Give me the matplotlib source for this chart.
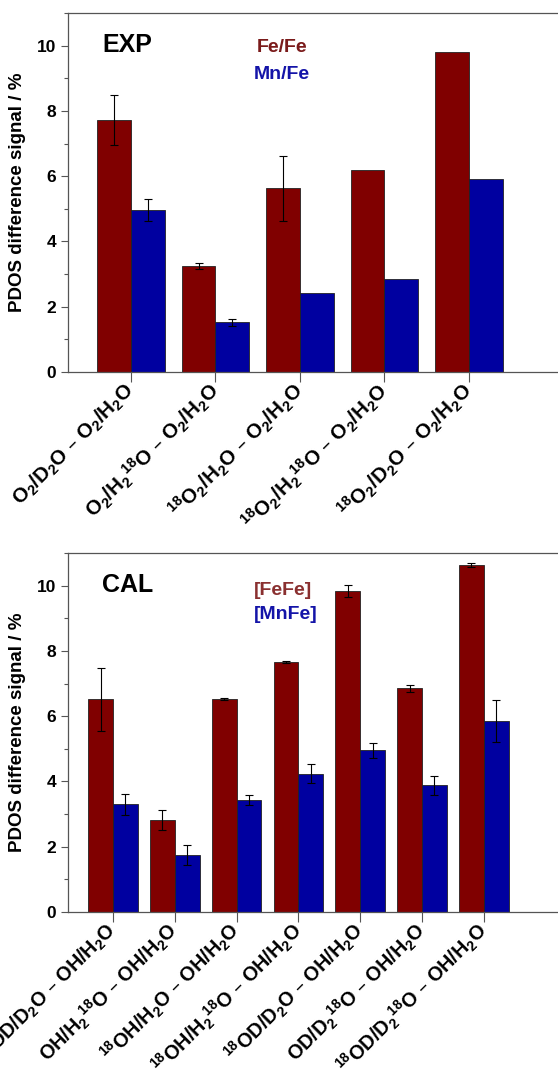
import numpy as np
import matplotlib
matplotlib.use('Agg')
import matplotlib.pyplot as plt
import matplotlib.transforms as mtransforms
from matplotlib.ticker import MultipleLocator

# ---- data: experiment (top) ----
exp_labels = ['O$_2$/D$_2$O – O$_2$/H$_2$O',
              'O$_2$/H$_2$$^{18}$O – O$_2$/H$_2$O',
              '$^{18}$O$_2$/H$_2$O – O$_2$/H$_2$O',
              '$^{18}$O$_2$/H$_2$$^{18}$O – O$_2$/H$_2$O',
              '$^{18}$O$_2$/D$_2$O – O$_2$/H$_2$O']
exp_fefe = [7.72, 3.25, 5.63, 6.18, 9.80]
exp_fefe_err = [0.77, 0.09, 1.0, 0, 0]
exp_mnfe = [4.97, 1.52, 2.42, 2.86, 5.91]
exp_mnfe_err = [0.34, 0.11, 0, 0, 0]

# ---- data: calculation (bottom) ----
cal_labels = ['OD/D$_2$O – OH/H$_2$O',
              'OH/H$_2$$^{18}$O – OH/H$_2$O',
              '$^{18}$OH/H$_2$O – OH/H$_2$O',
              '$^{18}$OH/H$_2$$^{18}$O – OH/H$_2$O',
              '$^{18}$OD/D$_2$O – OH/H$_2$O',
              'OD/D$_2$$^{18}$O – OH/H$_2$O',
              '$^{18}$OD/D$_2$$^{18}$O – OH/H$_2$O']
cal_fefe = [6.52, 2.82, 6.52, 7.65, 9.84, 6.85, 10.62]
cal_fefe_err = [0.97, 0.31, 0.03, 0.03, 0.19, 0.12, 0.06]
cal_mnfe = [3.30, 1.75, 3.43, 4.24, 4.95, 3.88, 5.85]
cal_mnfe_err = [0.32, 0.31, 0.16, 0.30, 0.23, 0.30, 0.64]

plt.rcParams['font.family'] = ['Liberation Sans', 'DejaVu Sans']
plt.rcParams['font.weight'] = 'bold'
plt.rcParams['mathtext.default'] = 'regular'

red = '#800000'
blue = '#0000a0'
spine_col = '#555555'

fig = plt.figure(figsize=(5.58, 10.84), dpi=100)
ax1 = fig.add_axes([68/558, 1-372/1084, 1-68/558, 359/1084])
ax2 = fig.add_axes([68/558, 1-912/1084, 1-68/558, 359/1084])


def draw(ax, labels, fefe, fefe_err, mnfe, mnfe_err, xlim, lsize):
    x = np.arange(len(labels))
    w = 0.4
    ekw = dict(ecolor='black', elinewidth=0.8, capsize=3, capthick=0.8)
    fe_err = [e if e > 0 else np.nan for e in fefe_err]
    mn_err = [e if e > 0 else np.nan for e in mnfe_err]
    ax.bar(x - w/2, fefe, w, color=red, edgecolor='#222222', linewidth=0.6,
           yerr=fe_err, error_kw=ekw)
    ax.bar(x + w/2, mnfe, w, color=blue, edgecolor='#222222', linewidth=0.6,
           yerr=mn_err, error_kw=ekw)
    ax.set_xlim(*xlim)
    ax.set_ylim(0, 11)
    ax.set_xticks(x)
    ax.set_xticklabels(labels, rotation=45, ha='right', va='center',
                       rotation_mode='anchor', fontsize=lsize, fontweight='bold')
    # nudge the rotated labels right/down like the original
    offset = mtransforms.ScaledTranslation(9/100, -5/100, fig.dpi_scale_trans)
    for lbl in ax.get_xticklabels():
        lbl.set_transform(lbl.get_transform() + offset)
    ax.yaxis.set_major_locator(MultipleLocator(2))
    ax.yaxis.set_minor_locator(MultipleLocator(1))
    ax.tick_params(axis='y', which='major', direction='out', length=5,
                   width=0.8, color=spine_col, labelsize=12.5)
    ax.tick_params(axis='y', which='minor', direction='out', length=3,
                   width=0.8, color=spine_col)
    ax.tick_params(axis='x', direction='out', length=7, width=0.8,
                   color=spine_col, pad=4)
    for lbl in ax.get_yticklabels():
        lbl.set_fontweight('bold')
    ax.spines['right'].set_visible(False)
    for s in ['left', 'bottom', 'top']:
        ax.spines[s].set_color(spine_col)
        ax.spines[s].set_linewidth(0.9)
    ax.set_ylabel('PDOS difference signal / %', fontsize=13.5,
                  fontweight='bold', labelpad=8)


draw(ax1, exp_labels, exp_fefe, exp_fefe_err, exp_mnfe, exp_mnfe_err,
     (-0.745, 5.053), 14.8)
draw(ax2, cal_labels, cal_fefe, cal_fefe_err, cal_mnfe, cal_mnfe_err,
     (-0.728, 7.2), 14.3)

ax1.text(0.07, 0.91, 'EXP', transform=ax1.transAxes, fontsize=18,
         fontweight='bold', va='center', ha='left')
ax1.text(0.385, 0.905, 'Fe/Fe', transform=ax1.transAxes, fontsize=14,
         fontweight='bold', color='#7a1a1a', va='center', ha='left')
ax1.text(0.38, 0.83, 'Mn/Fe', transform=ax1.transAxes, fontsize=14,
         fontweight='bold', color='#1414a8', va='center', ha='left')

ax2.text(0.07, 0.91, 'CAL', transform=ax2.transAxes, fontsize=18,
         fontweight='bold', va='center', ha='left')
ax2.text(0.38, 0.895, '[FeFe]', transform=ax2.transAxes, fontsize=14,
         fontweight='bold', color='#8a3030', va='center', ha='left')
ax2.text(0.38, 0.83, '[MnFe]', transform=ax2.transAxes, fontsize=14,
         fontweight='bold', color='#1414a8', va='center', ha='left')

fig.savefig('out.png', dpi=100)
